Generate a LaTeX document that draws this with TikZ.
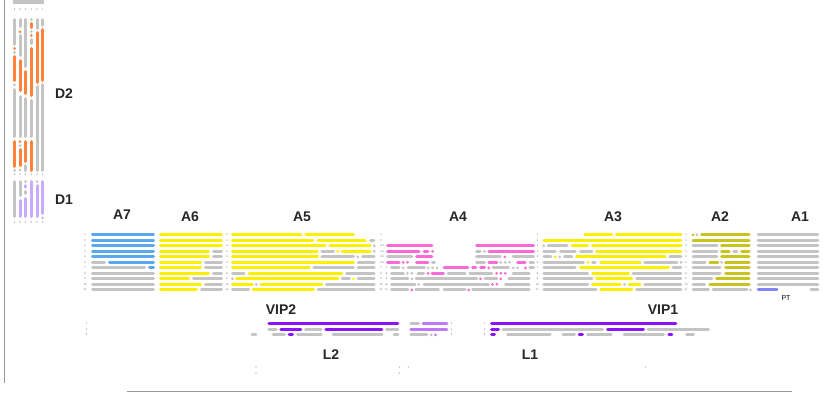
\documentclass[tikz,border=0pt]{standalone}
\usepackage{fontspec}
\setmainfont{Liberation Sans}
\definecolor{gbar}{RGB}{196,196,196}
\definecolor{ablue}{RGB}{90,168,240}
\definecolor{ayel}{RGB}{250,240,0}
\definecolor{apink}{RGB}{250,105,215}
\definecolor{aolive}{RGB}{200,195,30}
\definecolor{apt}{RGB}{130,130,250}
\definecolor{dpur}{RGB}{140,20,250}
\definecolor{lpur}{RGB}{190,120,250}
\definecolor{dorange}{RGB}{255,130,60}
\definecolor{dlav}{RGB}{200,170,255}
\tikzset{
  barline/.style={line width=3pt,line cap=round},
  dotline/.style={line width=3pt,line cap=round,dash pattern=on 0pt off 4.4pt},
  biglbl/.style={font=\fontsize{14}{14}\selectfont\bfseries,text=black!85,inner sep=0pt},
  tinylbl/.style={font=\fontsize{2.6}{3}\selectfont,text=black!60,inner sep=0pt}
}
\newcommand\barXY[4]{\draw[barline,#4] ({#2+1.5},{#1}) -- ({#3-1.5},{#1});}
\newcommand\dotXY[4]{\fill[#4] ({(#2+#3)/2},{#1}) circle (1.5pt);}
\newcommand\dotsXY[4]{\draw[dotline,#4] ({#2+1.5},{#1}) -- ({#3-1.5},{#1});}
\newcommand\barA[4]{\barXY{229.3+5.5*#1}{#2}{#3}{#4}}
\newcommand\dotA[4]{\dotXY{229.3+5.5*#1}{#2}{#3}{#4}}
\newcommand\dotsA[4]{\dotsXY{229.3+5.5*#1}{#2}{#3}{#4}}
\newcommand\barL[4]{\barXY{318.3+5.5*#1}{#2}{#3}{#4}}
\newcommand\dotL[4]{\dotXY{318.3+5.5*#1}{#2}{#3}{#4}}
\newcommand\dotsL[4]{\dotsXY{318.3+5.5*#1}{#2}{#3}{#4}}
\newcommand\barVV[4]{\draw[barline,#4] (#1,{#2+1.5}) -- (#1,{#3-1.5});}
\newcommand\dotVV[4]{\fill[#4] (#1,{(#2+#3)/2}) circle (1.5pt);}
\begin{document}
\begin{tikzpicture}[x=1pt,y=-1pt]
\useasboundingbox (0,0) rectangle (823,397);
\fill[white] (0,0) rectangle (823,397);
% frame lines
\draw[gray!80,line width=1pt] (4.5,0) -- (4.5,383);
\draw[gray!80,line width=1.5pt] (127,391.5) -- (792,391.5);
\fill[gbar] (13,0) rectangle (44,3.5);
% ---------------- D2 / D1 columns
\def\ca{14.5}\def\cb{20}\def\cc{25.7}\def\cd{31.3}\def\ce{37}\def\cf{42.5}
% col 1
\barVV{\ca}{18}{46}{gbar} \dotVV{\ca}{46.5}{50}{dorange} \dotVV{\ca}{50.5}{54}{gbar}
\barVV{\ca}{55}{82}{dorange} \dotVV{\ca}{83}{86.5}{gbar} \barVV{\ca}{88}{138}{gbar}
\barVV{\ca}{140}{168}{dorange} \dotVV{\ca}{168.5}{172}{gbar}
% col 2
\barVV{\cb}{18}{28}{gbar} \dotVV{\cb}{30}{33.5}{dorange} \barVV{\cb}{34}{57}{gbar}
\barVV{\cb}{59}{92}{dorange} \barVV{\cb}{95}{138}{gbar} \dotVV{\cb}{140}{143}{dorange}
\dotVV{\cb}{144}{147}{gbar} \barVV{\cb}{148}{167}{dorange} \dotVV{\cb}{168}{172}{gbar}
% col 3
\barVV{\cc}{18}{68}{gbar} \barVV{\cc}{70}{95}{dorange} \barVV{\cc}{97}{138}{gbar}
\barVV{\cc}{140}{163}{dorange} \barVV{\cc}{164}{172}{gbar}
% col 4
\dotVV{\cd}{18}{21}{gbar} \barVV{\cd}{22}{29}{dorange} \dotVV{\cd}{30}{33}{gbar}
\dotVV{\cd}{34}{37}{dorange} \barVV{\cd}{38}{45}{gbar} \barVV{\cd}{47}{97}{dorange}
\barVV{\cd}{99}{138}{gbar} \barVV{\cd}{140}{172}{dorange}
% col 5
\barVV{\ce}{18}{30}{gbar} \barVV{\ce}{31}{84}{dorange} \barVV{\ce}{85}{172}{gbar}
% col 6
\barVV{\cf}{18}{27}{gbar} \barVV{\cf}{28}{82}{dorange} \barVV{\cf}{83}{172}{gbar}
% D1
\barVV{\ca}{180}{218}{gbar}
\barVV{\cb}{180}{197}{gbar} \barVV{\cb}{199}{218}{dlav}
\dotVV{\cc}{180}{183}{gbar} \barVV{\cc}{184}{188.5}{dlav} \barVV{\cc}{190}{195}{gbar} \barVV{\cc}{197}{218}{dlav}
\barVV{\cd}{180}{218}{dlav}
\dotVV{\ce}{180}{183}{gbar} \barVV{\ce}{184}{218}{dlav}
\barVV{\cf}{180}{215}{dlav} \dotVV{\cf}{216}{219.5}{gbar}
% D tiny labels
\foreach \xx/\tt [count=\k] in {\ca/6,\cb/5,\cc/4,\cd/3,\ce/2,\cf/1}{
  \node[tinylbl] (dt\k) at (\xx,10) {\tt};
  \node[tinylbl] (dm\k) at (\xx,174.5) {\tt};
  \node[tinylbl] (db\k) at (\xx,222.5) {\tt};
}
\node[biglbl] (D2) at (64,93.5) {D2};
\node[biglbl] (D1) at (64,199.5) {D1};
% ---------------- A labels
\node[biglbl] (A7) at (122,215) {A7};
\node[biglbl] (A6) at (190,217) {A6};
\node[biglbl] (A5) at (302,217) {A5};
\node[biglbl] (A4) at (458,217) {A4};
\node[biglbl] (A3) at (613,217) {A3};
\node[biglbl] (A2) at (720,217) {A2};
\node[biglbl] (A1) at (800,217) {A1};
% row tiny labels
\foreach \i in {1,...,11}{
  \node[tinylbl] (ra\i) at (85,{229.3+5.5*\i}) {\i};
  \node[tinylbl] (rb\i) at (227,{229.3+5.5*\i}) {\i};
  \node[tinylbl] (rc\i) at (381,{229.3+5.5*\i}) {\i};
  \node[tinylbl] (rd\i) at (537.5,{229.3+5.5*\i}) {\i};
  \node[tinylbl] (re\i) at (686,{229.3+5.5*\i}) {\i};
}
\foreach \i in {3,...,6}{\node[tinylbl] (rf\i) at (383,{229.3+5.5*\i}) {\i};}
\foreach \i in {7,...,11}{\node[tinylbl] (rg\i) at (386.5,{229.3+5.5*\i}) {\i};}
% ---------------- A7
\foreach \r in {1,...,5}{\barA{\r}{91}{155}{ablue}}
\barA{6}{91}{106}{gbar} \barA{6}{108}{155}{ablue}
\barA{7}{91}{146}{gbar} \barA{7}{148}{155}{ablue}
\foreach \r in {8,...,11}{\barA{\r}{91}{155}{gbar}}
% ---------------- A6
\foreach \r in {1,2,3}{\barA{\r}{159}{223}{ayel}}
\barA{4}{159}{210}{ayel} \barA{4}{212}{223}{gbar}
\barA{5}{159}{210}{ayel} \barA{5}{212}{223}{gbar}
\barA{6}{159}{202}{ayel} \barA{6}{204}{223}{gbar}
\barA{7}{159}{202}{ayel} \barA{7}{204}{223}{gbar}
\barA{8}{159}{210}{ayel} \barA{8}{212}{223}{gbar}
\barA{9}{159}{190}{ayel} \barA{9}{192}{223}{gbar}
\barA{10}{159}{202}{ayel} \barA{10}{204}{223}{gbar}
\barA{11}{159}{198}{ayel} \barA{11}{200}{223}{gbar}
% ---------------- A5
\barA{1}{231}{302.3}{ayel} \barA{1}{304.3}{355}{ayel}
\barA{2}{231}{314.3}{ayel} \barA{2}{316.3}{366.7}{ayel} \barA{2}{369}{375.5}{gbar}
\barA{3}{231}{326.7}{ayel} \barA{3}{328.3}{371.7}{ayel} \dotA{3}{372.7}{375.7}{gbar}
\barA{4}{231}{319}{ayel} \barA{4}{320.3}{335}{gbar} \dotA{4}{336.2}{339.2}{ayel} \barA{4}{340.7}{371.7}{ayel} \dotA{4}{372.7}{375.7}{gbar}
\barA{5}{231}{319}{ayel} \barA{5}{320.3}{355}{gbar} \dotA{5}{356.3}{359.3}{gbar} \barA{5}{361}{375.7}{gbar}
\barA{6}{231}{355}{ayel} \barA{6}{356.7}{375.7}{gbar}
\barA{7}{231}{310.7}{ayel} \barA{7}{312.3}{355}{gbar} \barA{7}{356.7}{375.7}{gbar}
\barA{8}{231}{245.7}{gbar} \barA{8}{247.7}{343.3}{ayel} \barA{8}{345}{375.7}{gbar}
\dotA{9}{231}{234}{gbar} \barA{9}{235}{339.3}{ayel} \barA{9}{340.7}{351}{gbar} \dotA{9}{352}{355}{ayel} \barA{9}{356.7}{375.7}{gbar}
\barA{10}{231}{254}{ayel} \dotA{10}{254.8}{257.8}{gbar} \barA{10}{259.3}{323.3}{ayel} \barA{10}{324.8}{375.7}{gbar}
\barA{11}{231}{250}{gbar} \barA{11}{251.7}{315}{ayel} \barA{11}{316.7}{375.7}{gbar}
% ---------------- A4
\barA{3}{386}{433.3}{apink} \barA{3}{475}{535}{apink}
\barA{4}{386}{420.7}{apink} \barA{4}{422.7}{429.3}{apink} \dotA{4}{431}{434}{apink}
\barA{4}{475}{481.7}{gbar} \dotA{4}{483}{486}{gbar} \barA{4}{487.3}{535}{apink}
\barA{5}{386}{413.3}{gbar} \barA{5}{415}{433.3}{apink} \barA{5}{475}{501.7}{gbar}
\dotsA{5}{503.3}{510}{apink} \barA{5}{511.7}{535}{gbar}
\barA{6}{386}{400.7}{apink} \dotsA{6}{401.7}{413.3}{apink} \barA{6}{415}{429.3}{apink} \barA{6}{431}{436}{gbar}
\barA{6}{475}{486}{gbar} \barA{6}{487.3}{498.3}{apink} \dotsA{6}{499.3}{514}{gbar} \barA{6}{516}{526.7}{apink} \barA{6}{528.3}{535}{gbar}
\barA{7}{390}{400.7}{gbar} \dotA{7}{401.7}{404.7}{gbar} \barA{7}{406.7}{426}{gbar} \dotsA{7}{426.7}{440}{gbar}
\barA{7}{442.7}{469.3}{apink} \barA{7}{471}{477.3}{apink} \barA{7}{479}{486}{apink} \dotA{7}{487.3}{490.3}{apink}
\barA{7}{491.7}{510}{gbar} \dotsA{7}{511.7}{523.3}{gbar} \dotA{7}{524}{527}{apink} \barA{7}{528.3}{535}{gbar}
\barA{8}{390}{405}{gbar} \dotsA{8}{406}{415}{gbar} \barA{8}{416.7}{425}{gbar} \dotA{8}{426.5}{429.5}{apink}
\barA{8}{430.5}{445}{apink} \barA{8}{446.7}{466.7}{gbar} \barA{8}{468.3}{493.3}{gbar} \dotsA{8}{495}{510}{apink} \barA{8}{511.7}{530.7}{gbar}
\barA{9}{390}{409.3}{gbar} \dotA{9}{410.5}{413.5}{gbar} \barA{9}{414.5}{478.3}{gbar} \dotA{9}{479}{482}{apink}
\barA{9}{483.3}{498.3}{gbar} \dotsA{9}{499.3}{506}{apink} \barA{9}{507.3}{530.7}{gbar}
\barA{10}{390}{416.7}{gbar} \dotsA{10}{417.3}{421.7}{gbar} \barA{10}{422.7}{490}{gbar} \dotsA{10}{491}{502.7}{apink} \barA{10}{504}{530.7}{gbar}
\barA{11}{390}{409.3}{gbar} \dotA{11}{410.2}{413.2}{apink} \barA{11}{414.3}{440}{gbar} \barA{11}{442.7}{466.7}{gbar}
\dotA{11}{467.2}{470.2}{apink} \barA{11}{471}{530.7}{gbar}
% ---------------- A3
\barA{1}{583.3}{613.3}{ayel} \barA{1}{615}{682.3}{ayel}
\barA{2}{542.3}{682.3}{ayel}
\dotA{3}{542.3}{545.3}{gbar} \barA{3}{546.7}{568.3}{gbar} \barA{3}{570.7}{589}{ayel} \barA{3}{591}{682.3}{ayel}
\barA{4}{542.3}{556.7}{gbar} \barA{4}{559}{576.7}{gbar} \barA{4}{579}{593.3}{gbar} \barA{4}{595}{682.3}{ayel}
\barA{5}{542.3}{552.3}{gbar} \dotA{5}{553.8}{556.8}{ayel} \dotA{5}{558.2}{561.2}{gbar} \barA{5}{563}{573.3}{gbar}
\barA{5}{575}{666.7}{ayel} \barA{5}{668.3}{682.3}{gbar}
\barA{6}{542.3}{585}{gbar} \dotA{6}{586.5}{589.5}{ayel} \barA{6}{591}{596.7}{gbar} \barA{6}{599}{641.7}{ayel}
\barA{6}{643.3}{678.3}{gbar} \dotA{6}{679.5}{682.5}{gbar}
\barA{7}{542.3}{576.7}{gbar} \barA{7}{579}{670}{ayel} \barA{7}{671.7}{682.3}{gbar}
\barA{8}{542.3}{589}{gbar} \barA{8}{591}{630}{ayel} \barA{8}{631.7}{682.3}{gbar}
\barA{9}{542.3}{593.3}{gbar} \barA{9}{595}{633.3}{ayel} \barA{9}{635}{682.3}{gbar}
\barA{10}{542.3}{589}{gbar} \barA{10}{591}{621.7}{ayel} \dotA{10}{623}{626}{gbar} \barA{10}{627.7}{641.7}{ayel} \barA{10}{643.3}{682.3}{gbar}
\barA{11}{542.3}{597.7}{gbar} \barA{11}{599}{633.3}{ayel} \barA{11}{635}{682.3}{gbar}
% ---------------- A2
\dotA{1}{691.5}{694.5}{aolive} \dotA{1}{695.3}{698.3}{gbar} \barA{1}{700}{750.7}{aolive}
\barA{2}{691.7}{750.7}{aolive}
\barA{3}{691.7}{718.3}{gbar} \barA{3}{720}{750.7}{aolive}
\barA{4}{691.7}{718.3}{gbar} \barA{4}{720}{730.7}{aolive} \barA{4}{732.3}{738.3}{gbar} \barA{4}{740}{750.7}{aolive}
\barA{5}{691.7}{718.3}{gbar} \barA{5}{720}{750.7}{aolive}
\barA{6}{691.7}{706.7}{gbar} \barA{6}{708.3}{719.3}{aolive} \dotA{6}{720}{723}{gbar} \barA{6}{724}{750.7}{aolive}
\barA{7}{691.7}{721.7}{gbar} \barA{7}{724}{750.7}{aolive}
\barA{8}{691.7}{721.7}{gbar} \barA{8}{724}{750.7}{aolive}
\barA{9}{691.7}{713.3}{gbar} \barA{9}{715}{750.7}{aolive}
\barA{10}{691.7}{706}{gbar} \barA{10}{708.3}{750.7}{aolive}
\barA{11}{691.7}{710}{gbar} \barA{11}{711.7}{748.3}{gbar} \dotA{11}{749}{752}{gbar}
% ---------------- A1
\foreach \r in {1,...,10}{\barA{\r}{756.7}{819.3}{gbar}}
\barA{11}{756.7}{778.3}{apt} \barA{11}{809.3}{819.3}{gbar}
\node[font=\fontsize{7}{7}\selectfont,inner sep=0pt] (PT) at (786,298.3) {PT};
% ---------------- VIP / L
\node[biglbl] (VIP2) at (281,310) {VIP2};
\node[biglbl] (VIP1) at (663,310) {VIP1};
\node[biglbl] (L2) at (331,354.3) {L2};
\node[biglbl] (L1) at (530,354.3) {L1};
\foreach \i in {1,2,3}{
  \node[tinylbl] (va\i) at (86.7,{318.3+5.5*\i}) {\i};
  \node[tinylbl] (vb\i) at (451.7,{318.3+5.5*\i}) {\i};
  \node[tinylbl] (vc\i) at (484.7,{318.3+5.5*\i}) {\i};
}
\node[tinylbl] (wa1) at (256,367.5) {1};
\node[tinylbl] (wa2) at (256,373.3) {2};
\node[tinylbl] (wb1) at (399.3,367.5) {1};
\node[tinylbl] (wb2) at (399.3,373.3) {2};
\node[tinylbl] (wc1) at (408.3,367.5) {1};
\node[tinylbl] (wd1) at (645.7,367.5) {1};
% VIP2 block
\barL{1}{267.3}{399.3}{dpur} \barL{1}{409.3}{420}{gbar} \barL{1}{421.7}{448.3}{lpur}
\barL{2}{267.3}{277.7}{gbar} \barL{2}{279.3}{302.3}{dpur} \barL{2}{304}{322.7}{gbar} \barL{2}{324.3}{383.3}{dpur}
\barL{2}{385}{399.3}{gbar} \barL{2}{409.3}{448.3}{lpur}
\barL{3}{250.7}{257.3}{gbar} \barL{3}{271.7}{286}{gbar} \barL{3}{287.7}{294}{dpur} \barL{3}{296}{322.7}{gbar}
\barL{3}{331.7}{383.3}{gbar} \barL{3}{392.7}{399.3}{gbar} \barL{3}{409.3}{428.3}{gbar} \dotL{3}{429.8}{432.8}{gbar}
\dotsL{3}{434}{441}{lpur}
% VIP1 block
\barL{1}{490}{677.3}{dpur}
\barL{2}{490}{500}{dpur} \barL{2}{501.7}{604}{gbar} \barL{2}{606}{645}{dpur} \barL{2}{646.7}{710}{gbar}
\barL{3}{490}{496}{dpur} \barL{3}{506}{551.7}{gbar} \barL{3}{561.7}{576}{gbar} \barL{3}{577.7}{584}{dpur}
\barL{3}{586}{612.7}{gbar} \barL{3}{622.7}{665}{gbar} \barL{3}{667.3}{673.3}{dpur} \barL{3}{685}{695}{gbar}
\end{tikzpicture}
\end{document}
